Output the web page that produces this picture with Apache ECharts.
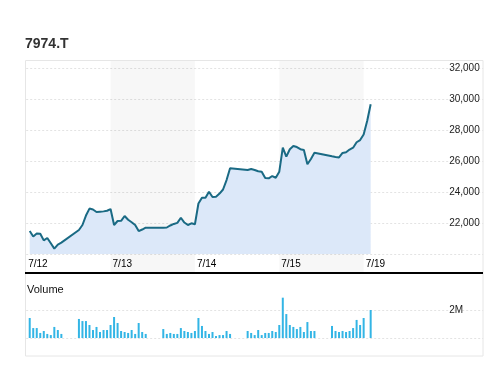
<!DOCTYPE html>
<html>
<head>
<meta charset="utf-8">
<script src="https://cdn.jsdelivr.net/npm/echarts@6/dist/echarts.min.js"></script>
<style>
html,body{margin:0;padding:0;background:#fff;}
#c{width:496px;height:365px;}
</style>
</head>
<body>
<div id="c"></div>
<script>
const ticker = '7974.T';
const days = ['7/12', '7/13', '7/14', '7/15', '7/19'];
const slotsPerDay = 24;
const priceTicks = [20000, 22000, 24000, 26000, 28000, 30000, 32000];
const volumeTick = 2000000;

const price = [
  21480, 21130, 21320, 21310, 20880, 21030, 20690, 20350, 20610, 20730,
  null, null, null, null,
  21550, 21870, 22480, 22930, 22870, 22710, 22730, 22750, 22790, 22900,
  21870, 22130, 22140, 22450, 22210, 22050, 21870, 21480, 21580, 21700,
  null, null, null, null,
  21700, 21710, 21840, 21940, 22010, 22340, 22030, 21870, 21980, 21920,
  23260, 23630, 23630, 24020, 23680, 23700, 23900, 24160, 24770, 25530,
  null, null, null, null,
  25420, 25480, 25420, 25340, 25310, 24900, 24880, 25030, 24920, 25310,
  26860, 26280, 26760, 26970, 26900, 26760, 26710, 25790, 26130, 26530,
  null, null, null, null,
  26300, 26260, 26230, 26520, 26560, 26740, 26860, 27210, 27350, 27710,
  28580, 29660
];

const volume = [
  1430000, 710000, 710000, 360000, 500000, 290000, 210000, 790000, 570000, 290000,
  null, null, null, null,
  1360000, 1210000, 1210000, 930000, 570000, 790000, 430000, 570000, 570000, 930000,
  1500000, 1070000, 500000, 430000, 360000, 570000, 290000, 1070000, 430000, 290000,
  null, null, null, null,
  640000, 290000, 360000, 290000, 290000, 710000, 500000, 430000, 360000, 500000,
  1430000, 860000, 500000, 290000, 430000, 140000, 210000, 210000, 500000, 290000,
  null, null, null, null,
  500000, 360000, 210000, 570000, 210000, 360000, 360000, 500000, 430000, 930000,
  2880000, 1710000, 930000, 790000, 640000, 790000, 430000, 1140000, 500000, 500000,
  null, null, null, null,
  860000, 500000, 430000, 500000, 430000, 500000, 710000, 1290000, 930000, 1430000,
  null, 2000000
];

// ---- build slot axis ----
const lead = 1;
const totalSlots = 131;
const slots = [];
for (let i = 0; i < totalSlots; i++) slots.push(String(i));
function pad(arr) {
  const out = [];
  for (let i = 0; i < totalSlots; i++) {
    const j = i - lead;
    out.push(j >= 0 && j < arr.length ? arr[j] : null);
  }
  return out;
}
const priceData = pad(price);
const volumeData = pad(volume);
const bands = [];
for (let d = 1; d < days.length - 1; d += 2) {
  bands.push([{ xAxis: String(d * slotsPerDay) }, { xAxis: String((d + 1) * slotsPerDay) }]);
}

const FONT = '"Liberation Sans", Arial, sans-serif';
const gridL = 26.2, gridR = 12.85;
const dotted = { show: true, lineStyle: { color: '#e3e3e3', type: [2, 2], width: 1 } };

const chart = echarts.init(document.getElementById('c'), null, { renderer: 'canvas' });
chart.setOption({
  animation: false,
  backgroundColor: '#fff',
  textStyle: { fontFamily: FONT },
  title: {
    text: ticker, left: 25, top: 37, padding: 0,
    textStyle: { fontSize: 14, fontWeight: 'bold', color: '#333', fontFamily: FONT }
  },
  graphic: [
    { type: 'rect', z: -10, shape: { x: 25.5, y: 60.5, width: 457.5, height: 295.5 },
      style: { fill: null, stroke: '#e6e6e6', lineWidth: 1 } },
    { type: 'rect', z: 100, shape: { x: 25, y: 272, width: 458, height: 2 }, style: { fill: '#000' } },
    { type: 'text', left: 27, top: 284, z: 100,
      style: { text: 'Volume', font: '11px ' + FONT, fill: '#111' } }
  ],
  grid: [
    { left: gridL, right: gridR, top: 61, bottom: 365 - 272 },   // background / day bands
    { left: gridL, right: gridR, top: 68, bottom: 365 - 254 },   // price
    { left: gridL, right: gridR, top: 310, bottom: 365 - 338 }   // volume
  ],
  xAxis: [
    { gridIndex: 0, type: 'category', data: slots, boundaryGap: false,
      axisLine: { show: false }, axisTick: { show: false }, splitLine: { show: false },
      axisLabel: {
        show: true, inside: true, interval: 0, margin: 8, align: 'left', verticalAlign: 'middle',
        padding: [0, 0, 0, 2], fontSize: 10, color: '#000', fontFamily: FONT,
        formatter: (v, i) => (i % slotsPerDay === 0 && days[i / slotsPerDay]) ? days[i / slotsPerDay] : ''
      } },
    { gridIndex: 1, type: 'category', data: slots, boundaryGap: false, show: false },
    { gridIndex: 2, type: 'category', data: slots, boundaryGap: false, show: false }
  ],
  yAxis: [
    { gridIndex: 0, type: 'value', min: 0, max: 1, show: false },
    { gridIndex: 1, type: 'value', position: 'right', min: priceTicks[0], max: priceTicks[priceTicks.length - 1],
      interval: priceTicks[1] - priceTicks[0],
      axisLine: { show: false }, axisTick: { show: false }, splitLine: dotted,
      axisLabel: {
        inside: true, margin: 34, align: 'left', verticalAlign: 'middle', padding: [9, 0, 0, 0],
        fontSize: 10, color: '#222', fontFamily: FONT,
        formatter: v => v === priceTicks[0] ? '' : v.toLocaleString('en-US')
      } },
    { gridIndex: 2, type: 'value', position: 'right', min: 0, max: volumeTick, interval: volumeTick,
      axisLine: { show: false }, axisTick: { show: false }, splitLine: dotted,
      axisLabel: {
        inside: true, margin: 34, align: 'left', verticalAlign: 'middle', padding: [10, 0, 0, 0],
        fontSize: 10, color: '#222', fontFamily: FONT,
        formatter: v => v === 0 ? '' : (v / 1e6) + 'M'
      } }
  ],
  series: [
    { type: 'line', xAxisIndex: 0, yAxisIndex: 0, z: 0, data: slots.map(() => null),
      showSymbol: false, silent: true,
      markArea: { silent: true, z: 0, itemStyle: { color: 'rgba(0,0,0,0.032)' }, data: bands } },
    { type: 'line', xAxisIndex: 1, yAxisIndex: 1, z: 3, data: priceData, connectNulls: true,
      showSymbol: false, symbol: 'none',
      lineStyle: { color: '#1a6a84', width: 2 },
      areaStyle: { color: '#dce8f9', opacity: 1, origin: 'start' } },
    { type: 'bar', xAxisIndex: 2, yAxisIndex: 2, data: volumeData, barWidth: 2, clip: false,
      itemStyle: { color: '#33b5e5' } }
  ]
});
</script>
</body>
</html>
